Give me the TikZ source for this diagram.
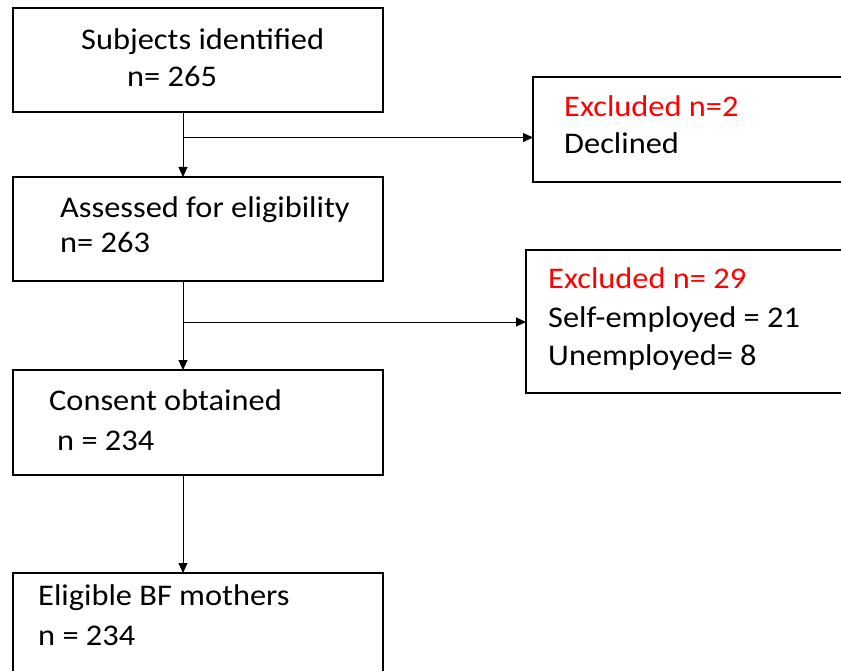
\documentclass[tikz,border=0pt]{standalone}
\usepackage{fontspec}
\setmainfont{Carlito}[FakeStretch=1.08]
\usetikzlibrary{arrows.meta}
\definecolor{exred}{RGB}{255,0,0}
\tikzset{
  box/.style={draw=black, line width=2pt, fill=none, inner sep=0pt, outer sep=0pt},
  conn/.style={draw=black, line width=0.9pt},
  arr/.style={conn, -{Triangle[length=10pt,width=9pt]}},
  txt/.style={anchor=base west, inner sep=0pt, font=\fontsize{30}{36}\selectfont},
  red/.style={text=exred}
}
\begin{document}
\begin{tikzpicture}[x=1pt,y=-1pt]
\clip (0,0) rectangle (841,671);
% boxes
\node[box, minimum width=370pt, minimum height=104pt] (b1) at (198,60) {};
\node[box, minimum width=370pt, minimum height=104pt] (b2) at (198,229) {};
\node[box, minimum width=370pt, minimum height=105pt] (b3) at (198,422.5) {};
\node[box, minimum width=370pt, minimum height=130pt] (b4) at (198,638) {};
\node[box, minimum width=330pt, minimum height=105pt] (r1) at (698,129.5) {};
\node[box, minimum width=330pt, minimum height=143pt] (r2) at (691,321.5) {};
% texts
\node[txt] (t1a) at (81,49.5) {Subjects identified};
\node[txt] (t1b) at (127,87) {n= 265};
\node[txt] (t2a) at (60,218) {Assessed for eligibility};
\node[txt] (t2b) at (60,253) {n= 263};
\node[txt] (t3a) at (49,410) {Consent obtained};
\node[txt] (t3b) at (57,450) {n = 234};
\node[txt] (t4a) at (38,605) {Eligible BF mothers};
\node[txt] (t4b) at (38,645) {n = 234};
\node[txt,red] (u1a) at (564,116.5) {Excluded n=2};
\node[txt] (u1b) at (564,153.5) {Declined};
\node[txt,red] (u2a) at (548,288) {Excluded n= 29};
\node[txt] (u2b) at (548,327) {Self-employed = 21};
\node[txt] (u2c) at (548,365) {Unemployed= 8};
% connectors
\coordinate (j1) at (183,137.5);
\coordinate (j2) at (183,322);
\draw[arr] (b1.south -| j1) -- (b2.north -| j1);
\draw[arr] (j1) -- (j1 -| r1.west);
\draw[arr] (b2.south -| j2) -- (b3.north -| j2);
\draw[arr] (j2) -- (j2 -| r2.west);
\draw[arr] (b3.south -| j2) -- (b4.north -| j2);
\end{tikzpicture}
\end{document}
